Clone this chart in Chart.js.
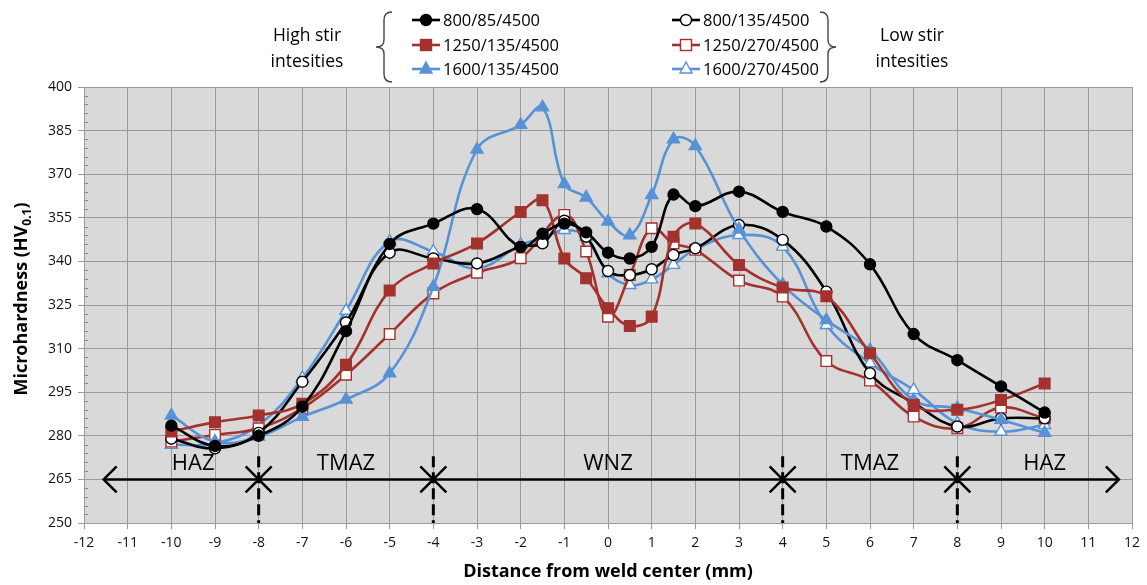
<!DOCTYPE html>
<html>
<head>
<meta charset="utf-8">
<script src="https://cdn.jsdelivr.net/npm/chart.js@4"></script>
<style>
  body { margin: 0; background: #fff; }
  #wrap { position: relative; width: 1147px; height: 585px; }
  #chart { position: absolute; left: 0; top: 0; }
  #legend { position: absolute; left: 0; top: 0; }
</style>
</head>
<body>
<div id="wrap">
  <canvas id="chart" width="1147" height="585"></canvas>
  <svg id="legend" width="1147" height="88" xmlns="http://www.w3.org/2000/svg"></svg>
</div>
<script>
/* =======================
   DATA
======================= */

const xPositions = [-10, -9, -8, -7, -6, -5, -4, -3, -2, -1.5, -1, -0.5, 0, 0.5, 1, 1.5, 2, 3, 4, 5, 6, 7, 8, 9, 10];

const hv800_85  = [283.5, 276.5, 280, 290, 316, 346, 353, 358, 345, 349.5, 353, 350, 343, 341, 345, 363, 359, 364, 357, 352, 339, 315, 306, 297, 288];
const hv1250_135 = [281.5, 284.7, 287, 291, 304.4, 330, 339.3, 346.2, 357, 361, 341, 334.2, 323.9, 317.8, 321, 348.5, 353, 338.8, 331, 328, 308.4, 290.6, 289, 292.3, 298];
const hv1600_135 = [287, 278, 279.7, 286.5, 292.5, 301.5, 331.3, 378.5, 387, 393, 366.6, 362, 353.7, 349, 362.8, 382, 379.7, 351, 332, 319.8, 309.5, 292.3, 289.5, 285.5, 281];
const hv800_135 = [279, 275.7, 281, 298.6, 319, 343, 341, 339.3, 345, 346.2, 354, 348.5, 336.7, 335.3, 337.3, 342.2, 344.5, 352.5, 347.4, 329.6, 301.5, 291.3, 283.2, 286, 286];
const hv1250_270 = [278, 280.3, 282.6, 289.5, 301, 315, 329, 336.1, 341.1, null, 356, 343.4, 321, 335.3, 351.4, 346.2, 344, 333.4, 327.9, 305.7, 299, 286.6, 282.6, 289.7, 286];
const hv1600_270 = [276.9, 277.4, 283.7, 299.8, 323, 346.8, 343.4, 337.6, 345.7, 348, 350.8, 348.5, 335.9, 331.9, 333.8, 338.8, 344.2, 349.1, 345.1, 318.1, 305, 295.8, 284.3, 281.4, 283.7];

const seriesNames = ["800/85/4500", "1250/135/4500", "1600/135/4500", "800/135/4500", "1250/270/4500", "1600/270/4500"];
const seriesValues = [hv800_85, hv1250_135, hv1600_135, hv800_135, hv1250_270, hv1600_270];

const xTickMin = -12, xTickMax = 12, xTickStep = 1;
const yTickMin = 250, yTickMax = 400, yTickStep = 15;

const zoneBounds = [-11.55, -8, -4, 4, 8, 11.7];
const zoneNames = ["HAZ", "TMAZ", "WNZ", "TMAZ", "HAZ"];
const zoneLabelX = [-9.5, -6, 0, 6, 10];
const zoneDividers = [-8, -4, 4, 8];
const zoneArrowLevel = 265;
const zoneLabelLevel = 270.5;
const zoneDividerTop = 273;

/* =======================
   STYLES
======================= */

const BLACK = "#000000";
const RED = "#a3322f";
const BLUE = "#5792d6";
const FONT = "'Open Sans', sans-serif";

const seriesColors = [BLACK, RED, BLUE, BLACK, RED, BLUE];
const seriesShapes = ["circle", "rect", "triangle", "circle", "rect", "triangle"];
const seriesFilled = [true, true, true, false, false, false];
const seriesRadius = { circle: 5.5, rect: 7.5, triangle: 7 };

const datasets = seriesNames.map((name, i) => ({
  label: name,
  data: xPositions.map((x, k) => ({ x, y: seriesValues[i][k] })).filter(p => p.y !== null),
  borderColor: seriesColors[i],
  borderWidth: 2.6,
  tension: 0.4,
  pointStyle: seriesShapes[i],
  pointRadius: seriesRadius[seriesShapes[i]],
  pointBorderWidth: 1.4,
  pointBackgroundColor: seriesFilled[i] ? seriesColors[i] : "#ffffff",
  pointBorderColor: seriesColors[i],
  fill: false
}));

/* =======================
   PLUGINS
======================= */

const plotBackground = {
  id: "plotBackground",
  beforeDraw(chart) {
    const { ctx, chartArea: a } = chart;
    ctx.save();
    ctx.fillStyle = "#d9d9d9";
    ctx.fillRect(a.left, a.top, a.right - a.left, a.bottom - a.top);
    ctx.restore();
  },
  beforeDatasetsDraw(chart) {
    // minor tick marks on the y axis
    const { ctx, chartArea: a, scales } = chart;
    ctx.save();
    ctx.strokeStyle = "#8a8a8a";
    ctx.lineWidth = 1;
    for (let v = yTickMin; v <= yTickMax; v += 3) {
      if ((v - yTickMin) % yTickStep === 0) continue;
      const py = Math.round(scales.y.getPixelForValue(v)) + 0.5;
      ctx.beginPath();
      ctx.moveTo(a.left, py);
      ctx.lineTo(a.left + 4, py);
      ctx.stroke();
    }
    ctx.restore();
  }
};

function arrowHead(ctx, x, y, dir) {
  ctx.beginPath();
  ctx.moveTo(x + dir * 13, y - 13);
  ctx.lineTo(x, y);
  ctx.lineTo(x + dir * 13, y + 13);
  ctx.stroke();
}

const zones = {
  id: "zones",
  afterDraw(chart) {
    const { ctx, chartArea: a, scales } = chart;
    const sx = scales.x, sy = scales.y;
    ctx.save();

    // dashed dividers
    ctx.strokeStyle = "#000";
    ctx.lineWidth = 3;
    ctx.setLineDash([11, 5]);
    zoneDividers.forEach(d => {
      const px = sx.getPixelForValue(d);
      ctx.beginPath();
      ctx.moveTo(px, sy.getPixelForValue(zoneDividerTop));
      ctx.lineTo(px, a.bottom);
      ctx.stroke();
    });
    ctx.setLineDash([]);

    // arrows
    const py = sy.getPixelForValue(zoneArrowLevel);
    ctx.lineWidth = 2.5;
    for (let i = 0; i < zoneBounds.length - 1; i++) {
      const x1 = sx.getPixelForValue(zoneBounds[i]);
      const x2 = sx.getPixelForValue(zoneBounds[i + 1]);
      ctx.beginPath();
      ctx.moveTo(x1, py);
      ctx.lineTo(x2, py);
      ctx.stroke();
      arrowHead(ctx, x1, py, 1);
      arrowHead(ctx, x2, py, -1);
    }

    // zone labels
    ctx.fillStyle = "#000";
    ctx.font = "22px " + FONT;
    ctx.textAlign = "center";
    ctx.textBaseline = "middle";
    zoneNames.forEach((n, i) => {
      ctx.fillText(n, sx.getPixelForValue(zoneLabelX[i]), sy.getPixelForValue(zoneLabelLevel));
    });

    // axis titles
    ctx.font = "bold 18px " + FONT;
    ctx.fillText("Distance from weld center (mm)", (a.left + a.right) / 2, 572);

    ctx.translate(22, (a.top + a.bottom) / 2 - 6);
    ctx.rotate(-Math.PI / 2);
    const main = "Microhardness (HV", sub = "0.1", end = ")";
    ctx.font = "bold 18px " + FONT;
    const wMain = ctx.measureText(main).width;
    const wEnd = ctx.measureText(end).width;
    ctx.font = "bold 12px " + FONT;
    const wSub = ctx.measureText(sub).width;
    let x0 = -(wMain + wSub + wEnd) / 2;
    ctx.textAlign = "left";
    ctx.font = "bold 18px " + FONT;
    ctx.fillText(main, x0, 0);
    ctx.font = "bold 12px " + FONT;
    ctx.fillText(sub, x0 + wMain, 6);
    ctx.font = "bold 18px " + FONT;
    ctx.fillText(end, x0 + wMain + wSub, 0);
    ctx.restore();
  }
};

/* =======================
   CHART
======================= */

const tickFont = { family: FONT, size: 14 };

new Chart(document.getElementById("chart"), {
  type: "line",
  data: { datasets },
  options: {
    responsive: false,
    animation: false,
    layout: { padding: { top: 87, right: 15, left: 0, bottom: 0 } },
    plugins: { legend: { display: false }, tooltip: { enabled: false } },
    scales: {
      x: {
        type: "linear",
        min: xTickMin,
        max: xTickMax,
        ticks: { stepSize: xTickStep, color: "#111", font: tickFont, padding: 6 },
        grid: { color: "#9a9a9a", tickLength: 6 },
        border: { color: "#9a9a9a" },
        afterFit(s) { s.height = 62; }
      },
      y: {
        min: yTickMin,
        max: yTickMax,
        ticks: { stepSize: yTickStep, color: "#111", font: tickFont, padding: 6 },
        grid: { color: "#9a9a9a", tickLength: 6 },
        border: { color: "#9a9a9a" },
        afterFit(s) { s.width = 84; }
      }
    }
  },
  plugins: [plotBackground, zones]
});

/* =======================
   LEGEND
======================= */

const svg = document.getElementById("legend");
const NS = "http://www.w3.org/2000/svg";
const LEGEND_SIZE = 16.5;

function el(tag, attrs, text) {
  const e = document.createElementNS(NS, tag);
  for (const k in attrs) e.setAttribute(k, attrs[k]);
  if (text) e.textContent = text;
  svg.appendChild(e);
  return e;
}

function marker(shape, cx, cy, color, filled) {
  const fill = filled ? color : "#fff";
  if (shape === "circle") el("circle", { cx, cy, r: 5.5, fill, stroke: color, "stroke-width": 1.4 });
  if (shape === "rect") el("rect", { x: cx - 5.5, y: cy - 5.5, width: 11, height: 11, fill, stroke: color, "stroke-width": 1.4 });
  if (shape === "triangle") el("polygon", { points: `${cx},${cy - 7} ${cx + 6},${cy + 4} ${cx - 6},${cy + 4}`, fill, stroke: color, "stroke-width": 1.4 });
}

const legendRows = [20, 45, 69];
const legendCols = [412, 672];
seriesNames.forEach((name, i) => {
  const col = legendCols[Math.floor(i / 3)];
  const y = legendRows[i % 3];
  el("line", { x1: col, y1: y, x2: col + 28, y2: y, stroke: seriesColors[i], "stroke-width": 2.6 });
  marker(seriesShapes[i], col + 14, y, seriesColors[i], seriesFilled[i]);
  el("text", { x: col + 31, y: y + 6, "font-family": FONT, "font-size": LEGEND_SIZE, fill: "#000" }, name);
});

// braces
el("path", { d: "M392,12 Q384,12 384,20 L384,40 Q384,47 376,47 Q384,47 384,54 L384,74 Q384,82 392,82", fill: "none", stroke: "#444", "stroke-width": 1.4 });
el("path", { d: "M820,12 Q828,12 828,20 L828,40 Q828,47 836,47 Q828,47 828,54 L828,74 Q828,82 820,82", fill: "none", stroke: "#444", "stroke-width": 1.4 });

el("text", { x: 307, y: 41, "text-anchor": "middle", "font-family": FONT, "font-size": 17.5 }, "High stir");
el("text", { x: 307, y: 67, "text-anchor": "middle", "font-family": FONT, "font-size": 17.5 }, "intesities");
el("text", { x: 912, y: 41, "text-anchor": "middle", "font-family": FONT, "font-size": 17.5 }, "Low stir");
el("text", { x: 912, y: 67, "text-anchor": "middle", "font-family": FONT, "font-size": 17.5 }, "intesities");
</script>
</body>
</html>
